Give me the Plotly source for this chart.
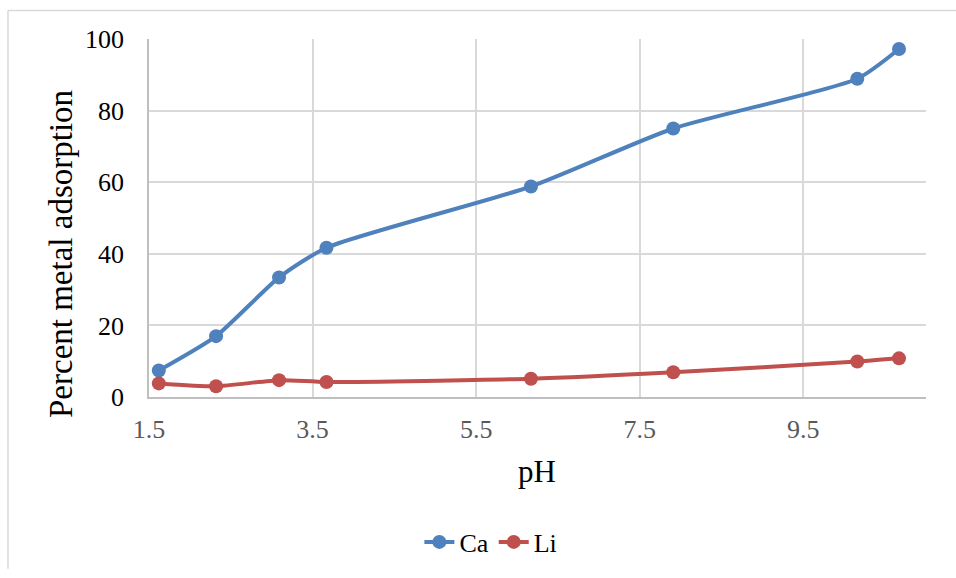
import plotly.graph_objects as go

# pH values shared by both series
ph = [1.62, 2.32, 3.09, 3.67, 6.17, 7.91, 10.16, 10.67]

# percent metal adsorption
ca = [7.4, 17.0, 33.4, 41.7, 58.8, 75.0, 88.9, 97.2]
li = [3.8, 3.0, 4.7, 4.2, 5.1, 6.9, 9.9, 10.8]

x_ticks = [1.5, 3.5, 5.5, 7.5, 9.5]
y_ticks = [0, 20, 40, 60, 80, 100]

BLUE = "#4F81BD"
RED = "#C0504D"
FONT = "Times New Roman, Liberation Serif, serif"

fig = go.Figure()
fig.add_trace(go.Scatter(
    x=ph, y=ca, name="Ca", mode="lines+markers",
    line=dict(color=BLUE, width=4, shape="spline", smoothing=0.6),
    marker=dict(color=BLUE, size=14),
))
fig.add_trace(go.Scatter(
    x=ph, y=li, name="Li", mode="lines+markers",
    line=dict(color=RED, width=4, shape="spline", smoothing=0.6),
    marker=dict(color=RED, size=14),
))

fig.update_layout(
    width=956, height=578,
    margin=dict(l=149, r=30, t=39, b=174),
    paper_bgcolor="white", plot_bgcolor="white",
    font=dict(family=FONT, size=26, color="#000000"),
    showlegend=True,
    legend=dict(
        orientation="h", x=0.44, y=-0.405,
        xanchor="center", yanchor="middle",
        font=dict(family=FONT, size=26, color="#000000"),
    ),
    xaxis=dict(
        range=[1.5, 11.0], tickvals=x_ticks,
        ticktext=[str(v) for v in x_ticks],
        showgrid=True, gridcolor="#D9D9D9", gridwidth=1.5,
        showline=True, linecolor="#BFBFBF", linewidth=1.5,
        zeroline=False, ticks="", ticklabelstandoff=8,
        tickfont=dict(family=FONT, size=26, color="#595959"),
    ),
    yaxis=dict(
        range=[0, 100], tickvals=y_ticks,
        showgrid=True, gridcolor="#D9D9D9", gridwidth=1.5,
        showline=True, linecolor="#BFBFBF", linewidth=1.5,
        zeroline=False, ticks="", ticklabelstandoff=18,
        tickfont=dict(family=FONT, size=26, color="#000000"),
    ),
    annotations=[
        dict(text="Percent metal adsorption", xref="paper", yref="paper",
             x=-0.113, y=0.40, textangle=-90, showarrow=False,
             xanchor="center", yanchor="middle",
             font=dict(family=FONT, size=33, color="#000000")),
        dict(text="pH", xref="paper", yref="paper",
             x=0.499, y=-0.208, showarrow=False,
             xanchor="center", yanchor="middle",
             font=dict(family=FONT, size=31, color="#000000")),
    ],
    shapes=[
        # chart-area border (top and left edges visible)
        dict(type="line", xref="paper", yref="paper",
             x0=-0.1815, y0=-0.48, x1=-0.1815, y1=1.0795,
             line=dict(color="#D9D9D9", width=1.5)),
        dict(type="line", xref="paper", yref="paper",
             x0=-0.1815, y0=1.0795, x1=1.0386, y1=1.0795,
             line=dict(color="#D9D9D9", width=1.5)),
    ],
)

fig.write_html("out.html", config={"displayModeBar": False},
               post_script="document.body.style.margin='0';")
